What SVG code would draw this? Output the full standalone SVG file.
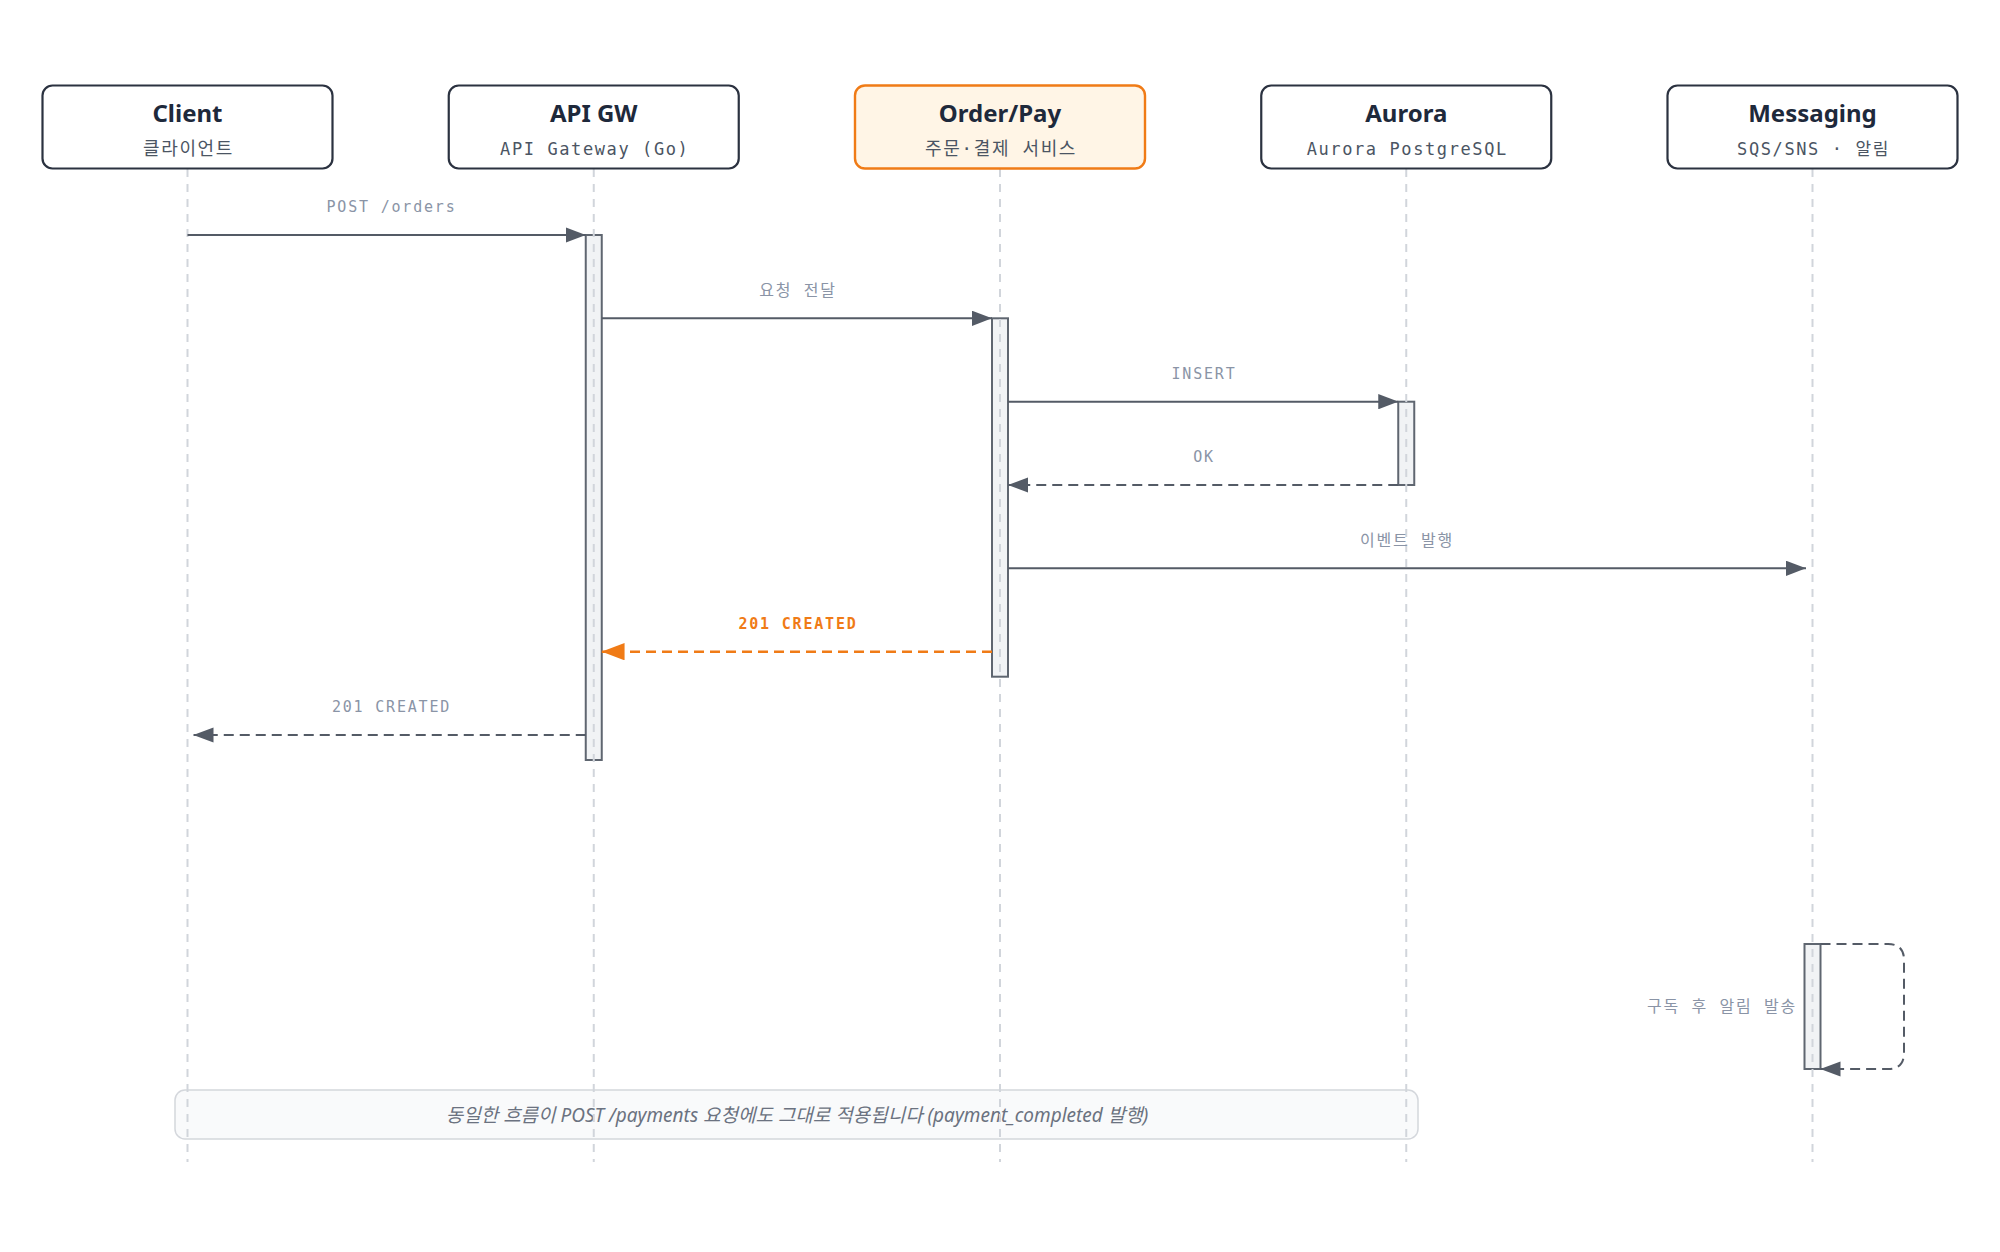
<svg xmlns="http://www.w3.org/2000/svg" width="2000" height="1252" viewBox="0 0 2000 1252">
<style>
.box{fill:#ffffff;stroke:#2b3240;stroke-width:2.2}
.box-hl{fill:#fff5e6;stroke:#f07b16;stroke-width:2.4}
.title{font-family:"Noto Sans","Liberation Sans",sans-serif;font-weight:700;font-size:24px;fill:#1e293b;text-anchor:middle}
.sub{font-family:"DejaVu Sans Mono","Noto Sans CJK KR",monospace;font-size:17px;fill:#4b5563;text-anchor:middle;letter-spacing:1.6px}
.sub-ko{font-size:18px}
.life{stroke:#d1d5db;stroke-width:2;stroke-dasharray:8 7;fill:none}
.bar{fill:#f1f3f5;stroke:#5f6670;stroke-width:2}
.msg{stroke:#545b66;stroke-width:2;fill:none}
.dash{stroke-dasharray:10 6}
.hl{stroke:#f07b16;stroke-width:2.4}
.lbl{font-family:"DejaVu Sans Mono","Noto Sans CJK KR",monospace;font-size:15px;fill:#8a94a6;text-anchor:middle;letter-spacing:1.8px}
.lbl-ko{font-size:16px}
.lbl-hl{fill:#f07b16;font-weight:700}
.note{fill:#f9fafb;stroke:#d4d7dc;stroke-width:1.5}
.note-t{font-family:"Noto Sans","Noto Sans CJK KR",sans-serif;font-style:italic;font-size:19px;fill:#6b7280;text-anchor:middle}
</style>
<defs>
<marker id="ah" viewBox="0 0 10 7.6" refX="10" refY="3.8" markerWidth="10" markerHeight="7.6" markerUnits="strokeWidth" orient="auto">
<path d="M0,0 L10,3.8 L0,7.6 z" fill="#545b66"/>
</marker>
<marker id="ah-hl" viewBox="0 0 9.5 7.2" refX="9.5" refY="3.6" markerWidth="9.5" markerHeight="7.2" markerUnits="strokeWidth" orient="auto">
<path d="M0,0 L9.5,3.6 L0,7.2 z" fill="#f07b16"/>
</marker>
</defs>
<rect width="2000" height="1252" fill="#ffffff"/>

<g id="note">
<rect class="note" x="175" y="1090" width="1243" height="49" rx="10"/>
<text class="note-t" x="797" y="1122">동일한 흐름이 POST /payments 요청에도 그대로 적용됩니다 (payment_completed 발행)</text>
</g>

<g id="activations">
<rect class="bar" x="585.75" y="235" width="16" height="525"/>
<rect class="bar" x="992" y="318.3" width="16" height="358.4"/>
<rect class="bar" x="1398.25" y="401.7" width="16" height="83.3"/>
<rect class="bar" x="1804.5" y="944" width="16" height="125"/>
</g>

<g id="lifelines">
<line class="life" x1="187.5" y1="169" x2="187.5" y2="1162"/>
<line class="life" x1="593.75" y1="169" x2="593.75" y2="1162"/>
<line class="life" x1="1000" y1="169" x2="1000" y2="1162"/>
<line class="life" x1="1406.25" y1="169" x2="1406.25" y2="1162"/>
<line class="life" x1="1812.5" y1="169" x2="1812.5" y2="1162"/>
</g>

<g id="client">
<rect class="box" x="42.5" y="85.5" width="290" height="83" rx="10"/>
<text class="title" x="187.5" y="122">Client</text>
<text class="sub sub-ko" x="188.5" y="155">클라이언트</text>
</g>
<g id="apigw">
<rect class="box" x="448.75" y="85.5" width="290" height="83" rx="10"/>
<text class="title" x="593.75" y="122">API GW</text>
<text class="sub" x="594.75" y="155">API Gateway (Go)</text>
</g>
<g id="orderpay">
<rect class="box-hl" x="855" y="85.5" width="290" height="83" rx="10"/>
<text class="title" x="1000" y="122">Order/Pay</text>
<text class="sub sub-ko" x="1001" y="155">주문·결제 서비스</text>
</g>
<g id="aurora">
<rect class="box" x="1261.25" y="85.5" width="290" height="83" rx="10"/>
<text class="title" x="1406.25" y="122">Aurora</text>
<text class="sub" x="1407.25" y="155">Aurora PostgreSQL</text>
</g>
<g id="messaging">
<rect class="box" x="1667.5" y="85.5" width="290" height="83" rx="10"/>
<text class="title" x="1812.5" y="122">Messaging</text>
<text class="sub" x="1813.5" y="155">SQS/SNS · 알림</text>
</g>

<g id="connectors">
<line class="msg" x1="187.5" y1="235" x2="585.75" y2="235" marker-end="url(#ah)"/>
<text class="lbl" x="391.5" y="212">POST /orders</text>

<line class="msg" x1="601.75" y1="318.3" x2="992" y2="318.3" marker-end="url(#ah)"/>
<text class="lbl lbl-ko" x="798" y="296">요청 전달</text>

<line class="msg" x1="1008" y1="401.7" x2="1398.25" y2="401.7" marker-end="url(#ah)"/>
<text class="lbl" x="1204" y="379">INSERT</text>

<line class="msg dash" x1="1398.25" y1="485" x2="1008" y2="485" marker-end="url(#ah)"/>
<text class="lbl" x="1204" y="462">OK</text>

<line class="msg" x1="1008" y1="568.3" x2="1806" y2="568.3" marker-end="url(#ah)"/>
<text class="lbl lbl-ko" x="1407" y="546">이벤트 발행</text>

<line class="msg dash hl" x1="992" y1="651.7" x2="601.75" y2="651.7" marker-end="url(#ah-hl)"/>
<text class="lbl lbl-hl" x="798" y="629">201 CREATED</text>

<line class="msg dash" x1="585.75" y1="735" x2="193.5" y2="735" marker-end="url(#ah)"/>
<text class="lbl" x="391.5" y="712">201 CREATED</text>

<path class="msg dash" d="M1820.5,944 H1888 Q1904,944 1904,960 V1053 Q1904,1069 1888,1069 H1820.5" marker-end="url(#ah)"/>
<text class="lbl lbl-ko" x="1797" y="1012" style="text-anchor:end">구독 후 알림 발송</text>
</g>
</svg>
